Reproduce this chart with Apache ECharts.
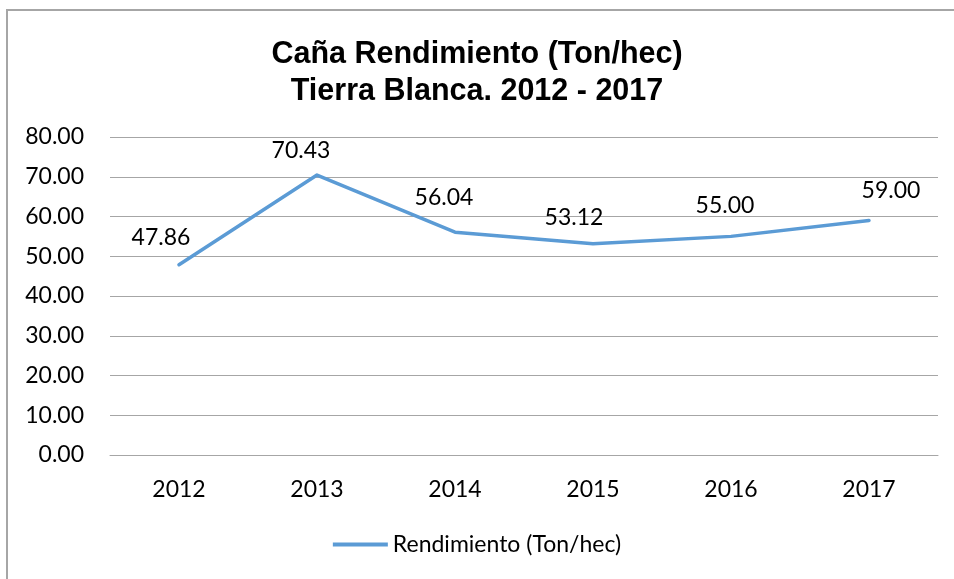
<!DOCTYPE html>
<html>
<head>
<meta charset="utf-8">
<script src="https://cdn.jsdelivr.net/npm/echarts@6/dist/echarts.min.js"></script>
<style>html,body{margin:0;padding:0;background:#fff;}#c{width:954px;height:579px;}</style>
</head>
<body>
<div id="c"></div>
<script>
const titleLines = ['Caña Rendimiento (Ton/hec)', 'Tierra Blanca. 2012 - 2017'];
const seriesName = 'Rendimiento (Ton/hec)';
const categories = ['2012', '2013', '2014', '2015', '2016', '2017'];
const values = [47.86, 70.43, 56.04, 53.12, 55.00, 59.00];
const yTicks = [0, 10, 20, 30, 40, 50, 60, 70, 80];

// label placement (style only)
const labelOffsets = [[-18, -27], [-16, -24], [-11, -35], [-19, -26], [-6, -31], [22, -30]];

const chart = echarts.init(document.getElementById('c'));
const numFont = 'Lato';
chart.setOption({
  animation: false,
  backgroundColor: '#ffffff',
  title: {
    text: titleLines.join('\n'),
    left: 'center',
    top: 31,
    textStyle: { fontFamily: 'Liberation Sans', fontWeight: 'bold', fontSize: 30.5, lineHeight: 37, color: '#000' }
  },
  graphic: [{
    type: 'rect',
    shape: { x: 7, y: 10, width: 980, height: 620 },
    style: { fill: 'none', stroke: '#a6a6a6', lineWidth: 2 },
    silent: true
  }],
  legend: {
    bottom: 18,
    left: 'center',
    icon: 'rect',
    itemWidth: 55,
    itemHeight: 4,
    data: [seriesName],
    textStyle: { fontFamily: numFont, fontSize: 23, color: '#000' }
  },
  grid: { left: 110, right: 16, top: 137, bottom: 124, containLabel: false },
  xAxis: {
    type: 'category',
    data: categories,
    boundaryGap: true,
    axisLine: { show: true, lineStyle: { color: '#a6a6a6', width: 1 } },
    axisTick: { show: false },
    axisLabel: { fontFamily: numFont, fontSize: 23, color: '#000', margin: 23 }
  },
  yAxis: {
    type: 'value',
    min: yTicks[0],
    max: yTicks[yTicks.length - 1],
    interval: yTicks[1] - yTicks[0],
    axisLine: { show: false },
    axisTick: { show: false },
    splitLine: { lineStyle: { color: '#a6a6a6', width: 1 } },
    axisLabel: { fontFamily: numFont, fontSize: 23, color: '#000', margin: 26, formatter: v => v.toFixed(2) }
  },
  series: [{
    name: seriesName,
    type: 'line',
    data: values.map((v, i) => ({
      value: v,
      label: { offset: labelOffsets[i] }
    })),
    symbol: 'circle',
    symbolSize: 0.1,
    showSymbol: true,
    lineStyle: { color: '#5b9bd5', width: 3.5, cap: 'round', join: 'round' },
    itemStyle: { color: '#5b9bd5' },
    label: {
      show: true,
      position: 'inside',
      fontFamily: numFont,
      fontSize: 23,
      color: '#000',
      formatter: p => p.value.toFixed(2)
    }
  }]
});
</script>
</body>
</html>
